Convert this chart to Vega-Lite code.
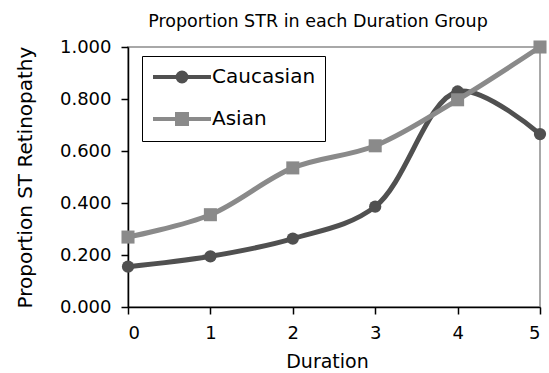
{
  "$schema": "https://vega.github.io/schema/vega-lite/v6.json",
  "width": 412,
  "height": 260,
  "autosize": {"type": "none"},
  "padding": {"left": 128, "top": 47, "right": 9, "bottom": 66},
  "background": "white",
  "title": {
    "text": "Proportion STR in each Duration Group",
    "font": "DejaVu Sans",
    "fontSize": 17.5,
    "fontWeight": "normal",
    "color": "black",
    "anchor": "middle",
    "dx": -16,
    "offset": 7
  },
  "config": {
    "view": {"stroke": "#a8a8a8", "strokeWidth": 2},
    "axis": {
      "grid": false,
      "domainColor": "black",
      "domainWidth": 1.5,
      "tickColor": "black",
      "tickWidth": 1.5,
      "tickSize": 7,
      "labelFont": "DejaVu Sans",
      "labelFontSize": 18,
      "labelColor": "black",
      "titleFont": "DejaVu Sans",
      "titleFontSize": 19,
      "titleFontWeight": "normal",
      "titleColor": "black"
    }
  },
  "data": {
    "values": [
      {"Duration": 0, "Group": "Caucasian", "Proportion": 0.155},
      {"Duration": 1, "Group": "Caucasian", "Proportion": 0.195},
      {"Duration": 2, "Group": "Caucasian", "Proportion": 0.263},
      {"Duration": 3, "Group": "Caucasian", "Proportion": 0.386},
      {"Duration": 4, "Group": "Caucasian", "Proportion": 0.829},
      {"Duration": 5, "Group": "Caucasian", "Proportion": 0.665},
      {"Duration": 0, "Group": "Asian", "Proportion": 0.269},
      {"Duration": 1, "Group": "Asian", "Proportion": 0.355},
      {"Duration": 2, "Group": "Asian", "Proportion": 0.535},
      {"Duration": 3, "Group": "Asian", "Proportion": 0.62},
      {"Duration": 4, "Group": "Asian", "Proportion": 0.797},
      {"Duration": 5, "Group": "Asian", "Proportion": 1.0}
    ]
  },
  "encoding": {
    "x": {
      "field": "Duration",
      "type": "quantitative",
      "scale": {"domain": [0, 5], "nice": false},
      "axis": {"values": [0, 1, 2, 3, 4, 5], "format": "d", "labelPadding": 10, "titlePadding": 10, "titleX": 199, "title": "Duration"}
    },
    "y": {
      "field": "Proportion",
      "type": "quantitative",
      "scale": {"domain": [0, 1], "nice": false},
      "axis": {"values": [0, 0.2, 0.4, 0.6, 0.8, 1.0], "format": ".3f", "labelPadding": 10, "titlePadding": 24, "titleFontSize": 20, "title": "Proportion ST Retinopathy"}
    }
  },
  "layer": [
    {
      "mark": {"type": "point", "filled": true, "opacity": 0, "size": 1},
      "encoding": {
        "fill": {
          "field": "Group",
          "type": "nominal",
          "scale": {"domain": ["Caucasian", "Asian"], "range": ["#505050", "#8a8a8a"]},
          "legend": {"title": null}
        },
        "stroke": {
          "field": "Group",
          "type": "nominal",
          "scale": {"domain": ["Caucasian", "Asian"], "range": ["#505050", "#8a8a8a"]},
          "legend": {"title": null}
        },
        "shape": {
          "field": "Group",
          "type": "nominal",
          "scale": {
            "domain": ["Caucasian", "Asian"],
            "range": [
              "M-1,0L4.8,0M1.45,0A0.45,0.45,0,1,1,2.35,0A0.45,0.45,0,1,1,1.45,0Z",
              "M-1,0L4.8,0M1.4,-0.5L2.4,-0.5L2.4,0.5L1.4,0.5Z"
            ]
          },
          "legend": {
            "title": null,
            "orient": "none",
            "legendX": 14,
            "legendY": 9,
            "padding": 9,
            "strokeColor": "black",
            "fillColor": "white",
            "symbolSize": 400,
            "symbolStrokeWidth": 4,
            "symbolOpacity": 1,
            "labelFont": "DejaVu Sans",
            "labelFontSize": 20,
            "labelColor": "black",
            "labelOffset": 37,
            "rowPadding": 16
          }
        }
      }
    },
    {
      "mark": {"type": "line", "interpolate": "catmull-rom", "strokeWidth": 5},
      "encoding": {
        "color": {
          "field": "Group",
          "type": "nominal",
          "scale": {"domain": ["Caucasian", "Asian"], "range": ["#505050", "#8a8a8a"]},
          "legend": null
        }
      }
    },
    {
      "transform": [{"filter": "datum.Group === 'Caucasian'"}],
      "mark": {"type": "point", "filled": true, "opacity": 1, "size": 150, "shape": "circle"},
      "encoding": {
        "color": {
          "field": "Group",
          "type": "nominal",
          "scale": {"domain": ["Caucasian", "Asian"], "range": ["#505050", "#8a8a8a"]},
          "legend": null
        }
      }
    },
    {
      "transform": [{"filter": "datum.Group === 'Asian'"}],
      "mark": {"type": "point", "filled": true, "opacity": 1, "size": 170, "shape": "square"},
      "encoding": {
        "color": {
          "field": "Group",
          "type": "nominal",
          "scale": {"domain": ["Caucasian", "Asian"], "range": ["#505050", "#8a8a8a"]},
          "legend": null
        }
      }
    }
  ]
}
